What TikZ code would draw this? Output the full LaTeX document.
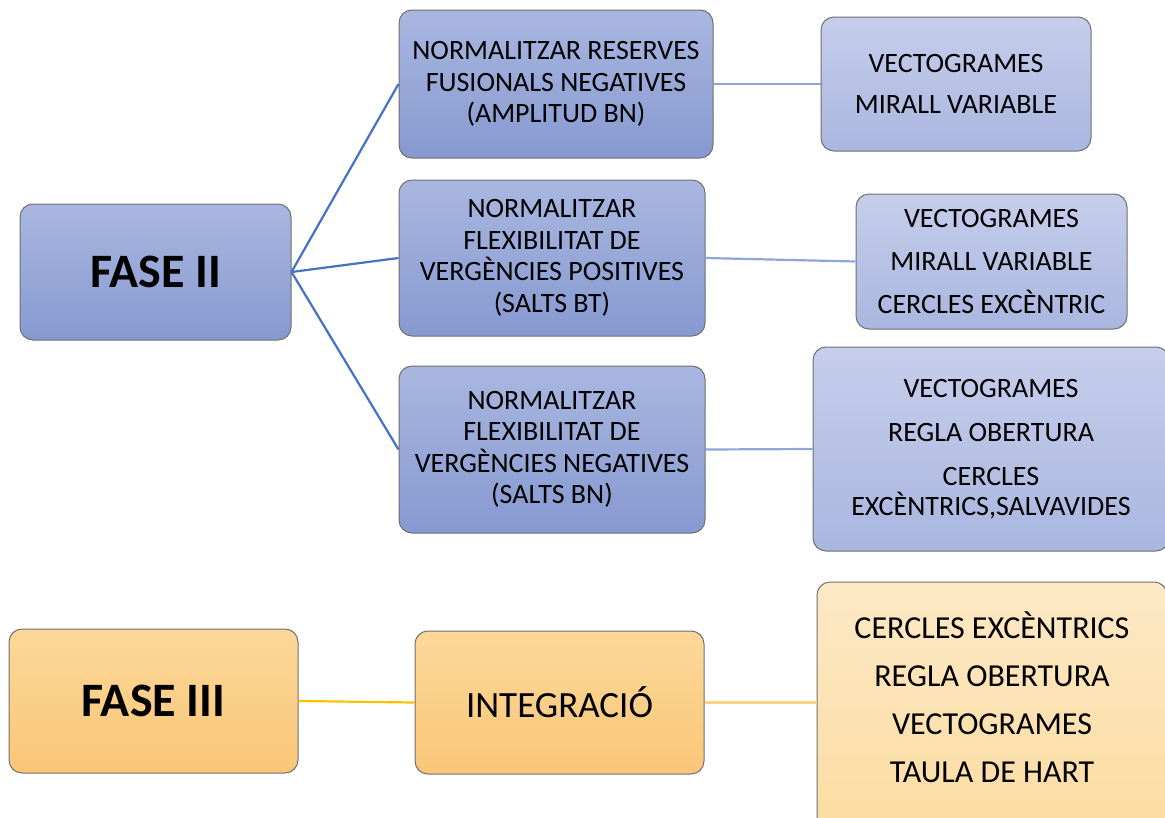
\documentclass[tikz,border=0pt]{standalone}
\usepackage{fontspec}
\setmainfont{Carlito}

\definecolor{boxLine}{HTML}{6F6F6F}
\definecolor{blueTop}{HTML}{A9B7E0}
\definecolor{blueBot}{HTML}{8699D0}
\definecolor{paleTop}{HTML}{C6CEEB}
\definecolor{paleBot}{HTML}{A9B6DF}
\definecolor{orangeTop}{HTML}{FCD899}
\definecolor{orangeBot}{HTML}{F9C677}
\definecolor{creamTop}{HTML}{FDE9C6}
\definecolor{creamBot}{HTML}{FCDCA1}
\definecolor{linkBlue}{HTML}{4472C4}
\definecolor{linkPale}{HTML}{8EA6DB}
\definecolor{linkOrange}{HTML}{FFC000}
\definecolor{linkCream}{HTML}{FFD47F}

\tikzset{
  box/.style={draw=boxLine, line width=1pt, rounded corners=13pt, align=center, inner sep=0pt},
  phase/.style={box, font=\fontsize{48}{54}\bfseries\selectfont},
  goal/.style={box, top color=blueTop, bottom color=blueBot, font=\fontsize{28}{31.5}\selectfont},
  tool/.style={box, top color=paleTop, bottom color=paleBot, font=\fontsize{28}{30}\selectfont},
  link/.style={line width=2.2pt, linkBlue},
  sublink/.style={line width=2.2pt, linkPale}
}

\begin{document}
\begin{tikzpicture}[x=1pt, y=-1pt]

  \useasboundingbox (0,0) rectangle (1165,817);
  \clip (0,0) rectangle (1165,817);

  % Fase II
  \node[phase, top color=blueTop, bottom color=blueBot, minimum width=271pt, minimum height=136pt] (fase2) at (155.5,272) {FASE II};

  \node[goal, minimum width=314pt, minimum height=148pt] (reserves) at (556,84)
    {NORMALITZAR RESERVES\\FUSIONALS NEGATIVES\\(AMPLITUD BN)};
  \node[goal, minimum width=306pt, minimum height=156pt] (positives) at (552,258)
    {NORMALITZAR\\FLEXIBILITAT DE\\VERGÈNCIES POSITIVES\\(SALTS BT)};
  \node[goal, minimum width=306pt, minimum height=167pt] (negatives) at (552,449.5)
    {NORMALITZAR\\FLEXIBILITAT DE\\VERGÈNCIES NEGATIVES\\(SALTS BN)};

  \node[tool, minimum width=270pt, minimum height=134pt] (tools1) at (956,84)
    {VECTOGRAMES\\[11pt]MIRALL VARIABLE};
  \node[tool, minimum width=271pt, minimum height=135pt] (tools2) at (991.5,261.5)
    {VECTOGRAMES\\[13pt]MIRALL VARIABLE\\[13pt]CERCLES EXCÈNTRIC};
  \node[tool, minimum width=356pt, minimum height=204pt] (tools3) at (991,449)
    {VECTOGRAMES\\[14pt]REGLA OBERTURA\\[14pt]CERCLES\\EXCÈNTRICS,SALVAVIDES};

  \draw[link] (fase2.east) -- (reserves.west);
  \draw[link] (fase2.east) -- (positives.west);
  \draw[link] (fase2.east) -- (negatives.west);
  \draw[sublink] (reserves.east) -- (tools1.west);
  \draw[sublink] (positives.east) -- (tools2.west);
  \draw[sublink] (negatives.east) -- (tools3.west);

  % Fase III
  \node[phase, top color=orangeTop, bottom color=orangeBot, minimum width=289pt, minimum height=144pt] (fase3) at (153.5,701) {FASE III};
  \node[box, top color=orangeTop, bottom color=orangeBot, minimum width=289pt, minimum height=143pt,
    font=\fontsize{37}{42}\selectfont] (integracio) at (559.5,702.5) {INTEGRACIÓ};
  \node[box, top color=creamTop, bottom color=creamBot, minimum width=350pt, minimum height=250pt,
    text depth=20pt, font=\fontsize{32}{48}\selectfont] (tools4) at (992,707)
    {CERCLES EXCÈNTRICS\\REGLA OBERTURA\\VECTOGRAMES\\TAULA DE HART};

  \draw[line width=2.2pt, linkOrange] (fase3.east) -- (integracio.west);
  \draw[line width=2.2pt, linkCream] (integracio.east) -- (tools4.west |- integracio.east);

\end{tikzpicture}
\end{document}
